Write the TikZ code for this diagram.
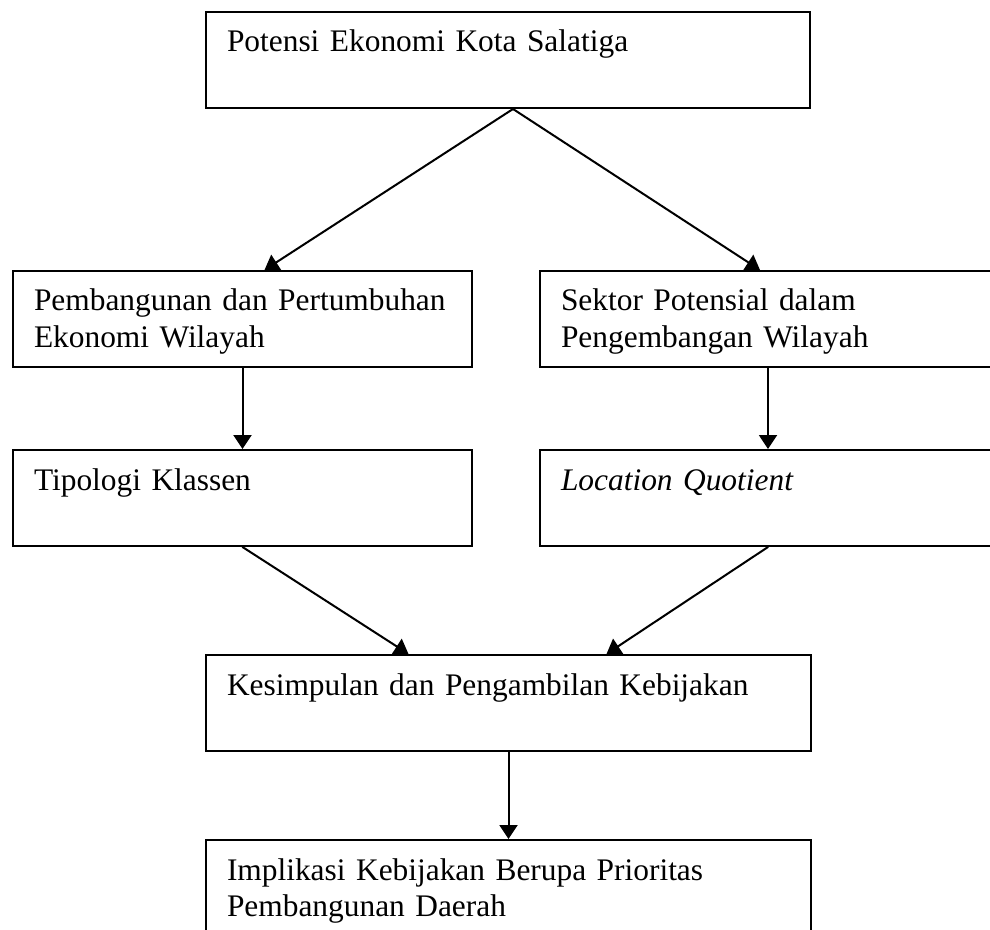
\documentclass[tikz,border=0pt]{standalone}
\usepackage{fontspec}
\setmainfont{Liberation Serif}
\usetikzlibrary{arrows.meta}

\tikzset{
  kotak/.style={draw, anchor=north west, align=left,
    inner xsep=10.5pt, inner ysep=0pt, text height=20pt, text depth=28pt,
    font=\fontsize{15.7}{18.25}\selectfont},
}

\begin{document}
\begin{tikzpicture}[line cap=round,line width=1pt,>={Triangle[length=7pt,width=9pt]},x=0.5pt,y=-0.5pt]
\useasboundingbox (0,0) rectangle (990,930);
\clip (0,0) rectangle (990,930);
\node[kotak, text width=281pt] (potensi) at (205,11) {Potensi Ekonomi Kota Salatiga};
\node[kotak, text width=208.5pt] (pembangunan) at (12,270) {\mbox{Pembangunan dan Pertumbuhan}\\Ekonomi Wilayah};
\node[kotak, text width=207pt] (sektor) at (539,270) {Sektor Potensial dalam\\Pengembangan Wilayah};
\node[kotak, text width=208.5pt] (tipologi) at (12,449) {Tipologi Klassen};
\node[kotak, text width=207pt] (lq) at (539,449) {\textit{Location Quotient}};
\node[kotak, text width=281.5pt] (kesimpulan) at (205,654) {Kesimpulan dan Pengambilan Kebijakan};
\node[kotak, text width=281.5pt] (implikasi) at (205,839) {Implikasi Kebijakan Berupa Prioritas\\Pembangunan Daerah};
\draw[->] ([xshift=2.5pt]potensi.south) -- ([xshift=11pt]pembangunan.north);
\draw[->] ([xshift=2.5pt]potensi.south) -- ([xshift=-4pt]sektor.north);
\draw[->] (pembangunan.south) -- (tipologi.north);
\draw[->] (sektor.south) -- (lq.north);
\draw[->] (tipologi.south) -- ([xshift=-50pt]kesimpulan.north);
\draw[->] (lq.south) -- ([xshift=49pt]kesimpulan.north);
\draw[->] (kesimpulan.south) -- (implikasi.north);
\end{tikzpicture}
\end{document}
